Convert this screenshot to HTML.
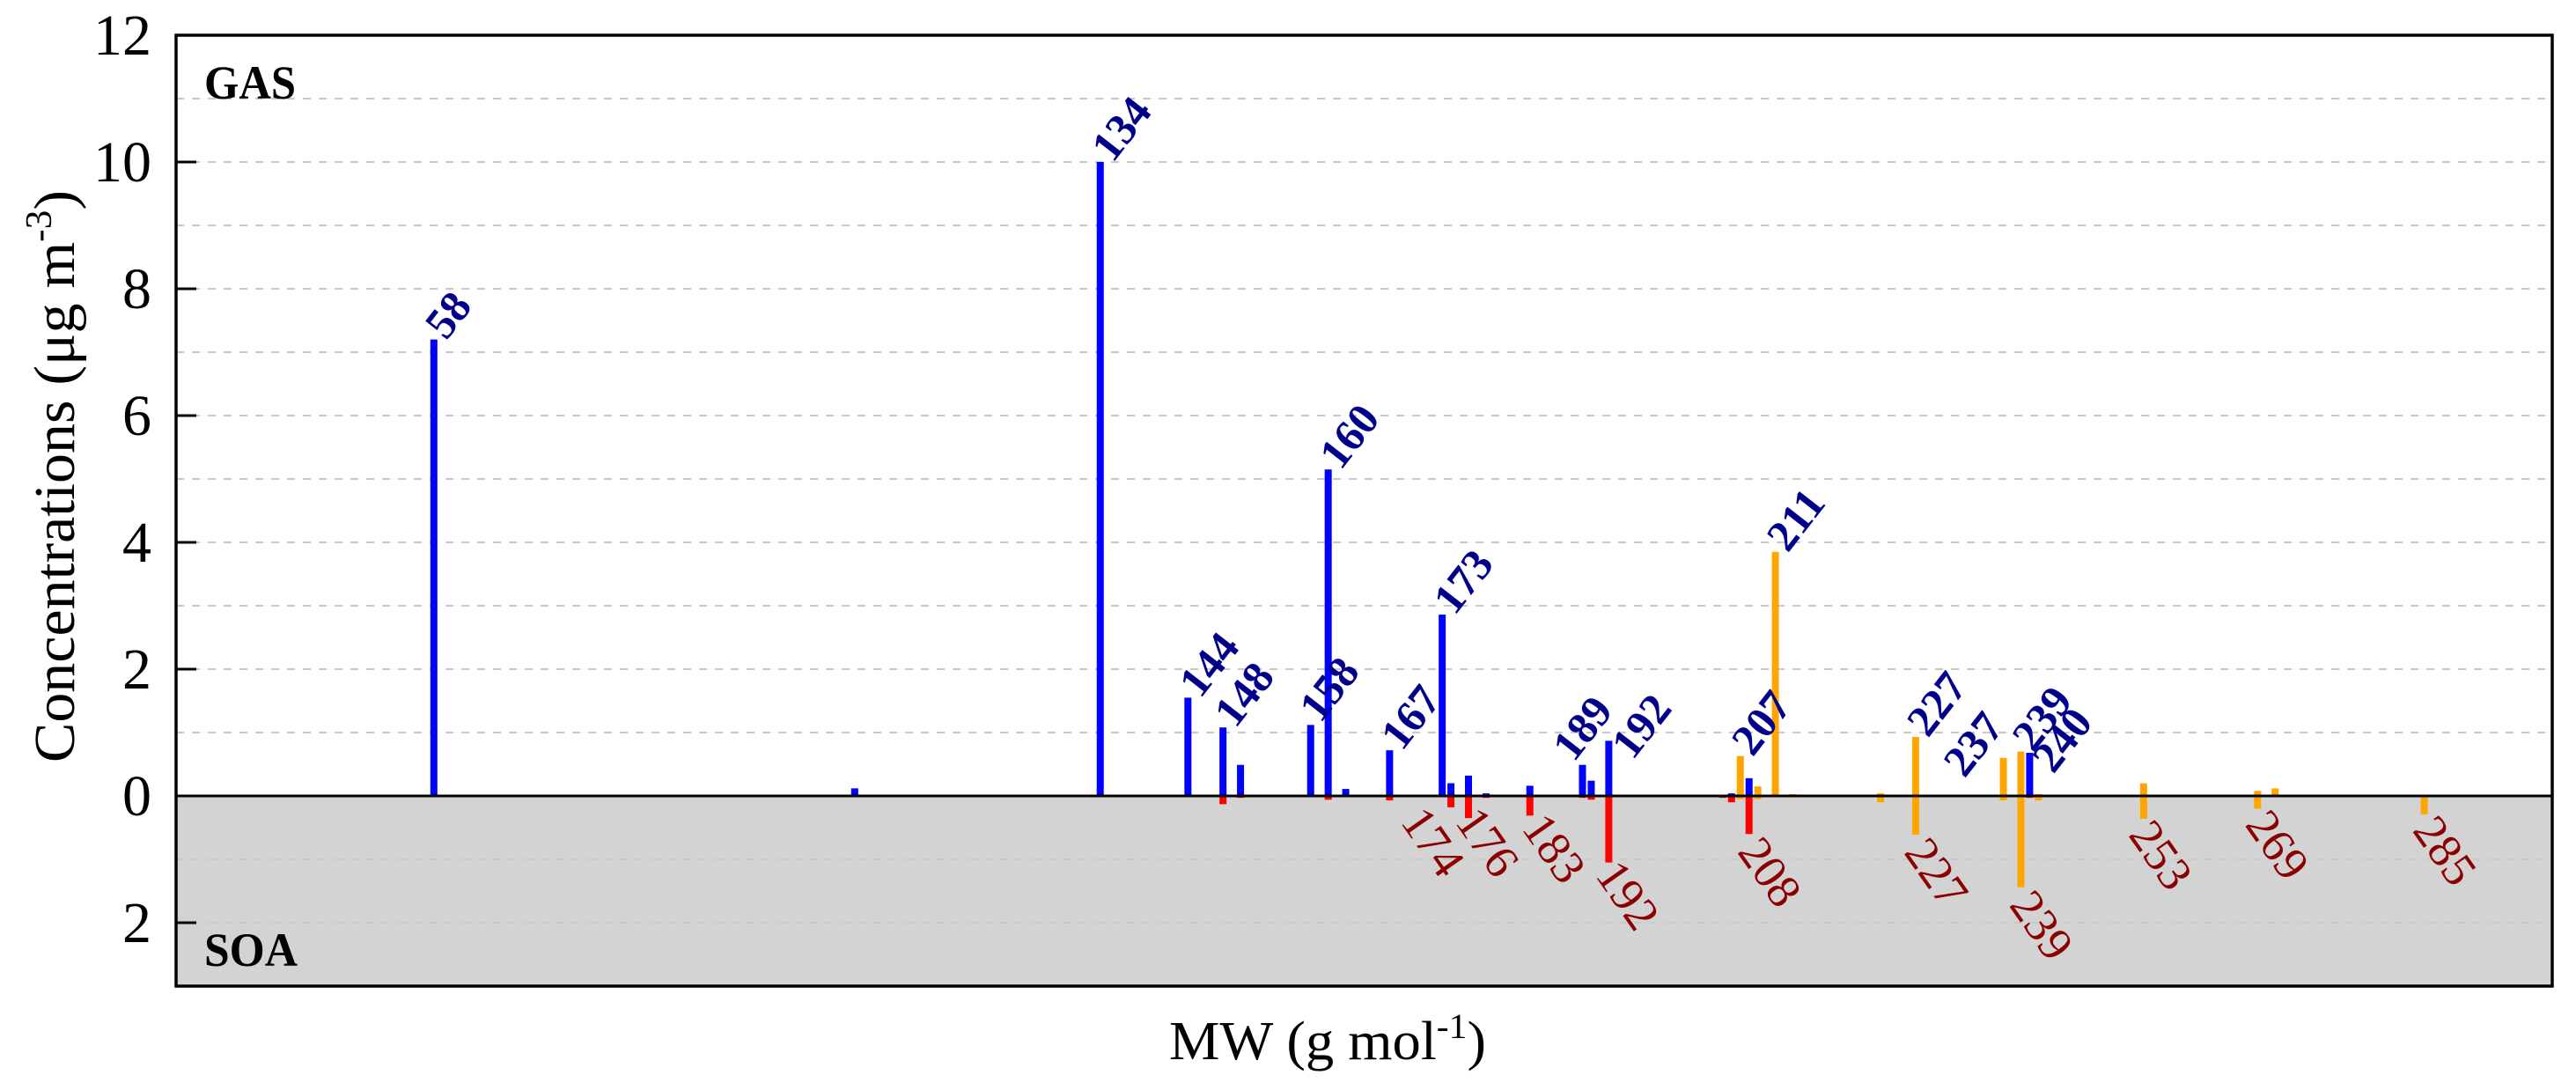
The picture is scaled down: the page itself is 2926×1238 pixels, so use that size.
<!DOCTYPE html>
<html><head><meta charset="utf-8"><style>
html,body{margin:0;padding:0;background:#fff;}
svg{display:block;font-family:"Liberation Serif","DejaVu Serif",serif;}
</style></head><body>
<svg id="chart" width="2926" height="1238" viewBox="0 0 2926 1238" xmlns="http://www.w3.org/2000/svg">
<g id="bg"></g><g id="grid"></g><g id="bars"></g><g id="frame"></g><g id="labels"></g><g id="axes"></g>
</svg>
<script>
// ---- data ----
const gasBlueMW = [58,106,122,134,144,148,150,158,160,162,167,173,174,176,178,180,183,189,190,192,206,208,240];
const gasBlueVal = [7.2,0.12,0.02,10.0,1.55,1.08,0.49,1.12,5.15,0.11,0.72,2.86,0.2,0.32,0.04,0.02,0.16,0.49,0.24,0.87,0.04,0.28,0.68];
const soaRedMW = [148,150,160,167,174,176,178,183,189,190,192,205,206,208,240];
const soaRedVal = [0.13,0.03,0.06,0.07,0.18,0.35,0.03,0.31,0.03,0.06,1.05,0.03,0.1,0.6,0.03];
const gasOrangeMW = [207,209,211,213,223,225,227,237,239,241,253,255,257,266,268,285,287];
const gasOrangeVal = [0.63,0.15,3.85,0.03,0.04,0.02,0.93,0.6,0.7,0.03,0.2,0.02,0.02,0.08,0.12,0.02,0.02];
const soaOrangeMW = [207,209,223,227,237,239,241,253,266,285];
const soaOrangeVal = [0.05,0.05,0.1,0.61,0.07,1.44,0.07,0.36,0.2,0.29];
const gasLabelText = ["58","134","144","148","158","160","167","173","189","192","207","211","227","237","239","240"];
const gasLabelMW = [58,134,144,148,158,160,167,173,189,192,207,211,227,237,239,240];
const gasLabelVal = [7.2,10.0,1.55,1.08,1.12,5.15,0.72,2.86,0.49,0.87,0.63,3.85,0.93,0.6,0.7,0.68];
const soaLabelText = ["174","176","183","192","208","227","239","253","269","285"];
const soaLabelMW = [174,176,183,192,208,227,239,253,266,285];
const soaLabelVal = [0.18,0.35,0.31,1.05,0.6,0.61,1.44,0.36,0.2,0.29];
const yTickVals = [12,10,8,6,4,2,0,-2];
const yTickLabels = ["12","10","8","6","4","2","0","2"];

// ---- scales ----
const X0=200, X1=2899, Y0=40, Y1=1120;
const xMin=28.6, xMax=299.6, yMin=-3, yMax=12;
function xs(m){return X0+(m-xMin)/(xMax-xMin)*(X1-X0);}
function ys(v){return Y1-(v-yMin)/(yMax-yMin)*(Y1-Y0);}
const NS="http://www.w3.org/2000/svg";
function mk(tag,attrs,parent){const e=document.createElementNS(NS,tag);for(const k in attrs)e.setAttribute(k,attrs[k]);parent.appendChild(e);return e;}
const gBg=document.getElementById('bg'),gGrid=document.getElementById('grid'),gBars=document.getElementById('bars'),gFrame=document.getElementById('frame'),gLab=document.getElementById('labels'),gAx=document.getElementById('axes');

let r=mk('rect',{x:X0,y:ys(0),width:X1-X0,height:Y1-ys(0),fill:'#d3d3d3'},gBg);



for(let v=-2;v<=11;v++){ if(v===0)continue;
  const l=mk('line',{x1:X0,x2:X1,y1:ys(v),y2:ys(v),stroke:'#c8c8c8','stroke-width':2,'stroke-dasharray':'9,9'},gGrid);
  
  
}

const BW=8;
function bars(mws,vals,color,down,name){
  for(let i=0;i<mws.length;i++){
    const x=xs(mws[i])-BW/2, yz=ys(0);
    const y=down?yz:ys(vals[i]);
    const h=Math.abs(ys(vals[i])-yz);
    const b=mk('rect',{x:x,y:y,width:BW,height:h,fill:color},gBars);
    
    
  }
}
bars(gasBlueMW,gasBlueVal,'#0000ff',false,'gas-bar-blue');
bars(gasOrangeMW,gasOrangeVal,'#ffa500',false,'gas-bar-orange');
bars(soaRedMW,soaRedVal,'#ff0000',true,'soa-bar-red');
bars(soaOrangeMW,soaOrangeVal,'#ffa500',true,'soa-bar-orange');

let z=mk('line',{x1:X0,x2:X1,y1:ys(0),y2:ys(0),stroke:'#000','stroke-width':3},gFrame);


let f=mk('rect',{x:X0,y:Y0,width:X1-X0,height:Y1-Y0,fill:'none',stroke:'#000','stroke-width':3.5},gFrame);



// label offsets (layout only)
const gasOff={"189":[-24,-4],"192":[13,21],"237":[-58,22],"240":[13,23],"158":[-3,-3]};
const soaOff={"174":[-42,-2],"176":[0,-14],"183":[6,-4],"192":[0,-4],"208":[2,2],"227":[2,2],"239":[2,2],"253":[-2,0],"269":[1,0],"285":[2,0]};
for(let i=0;i<gasLabelText.length;i++){
  const o=gasOff[gasLabelText[i]]||[0,0];
  const x=xs(gasLabelMW[i])+o[0]+14, y=ys(gasLabelVal[i])+o[1]+2;
  const t=mk('text',{x:x,y:y,transform:`rotate(-52 ${x} ${y})`,fill:'#00008b','font-size':50,'font-weight':'bold'},gLab);
  t.textContent=gasLabelText[i];
  
  
}
for(let i=0;i<soaLabelText.length;i++){
  const o=soaOff[soaLabelText[i]]||[0,0];
  const x=xs(soaLabelMW[i])+o[0]+10, y=ys(-soaLabelVal[i])+o[1];
  const t=mk('text',{x:x,y:y,transform:`rotate(55 ${x} ${y}) translate(0 32)`,fill:'#8b0000','font-size':54},gLab);
  t.textContent=soaLabelText[i];
  
  
}

for(let i=0;i<yTickVals.length;i++){
  const y=ys(yTickVals[i]);
  const tk=mk('line',{x1:X0,x2:X0+23,y1:y,y2:y,stroke:'#000','stroke-width':3},gAx);
  
  
  const t=mk('text',{x:172,y:y+22,'text-anchor':'end','font-size':66,fill:'#000'},gAx);
  t.textContent=yTickLabels[i];
  
  
}
</script>
<svg style="position:absolute;left:0;top:0" width="2926" height="1238" xmlns="http://www.w3.org/2000/svg">
<text x="232" y="112" font-family="Liberation Serif,serif" font-weight="bold" font-size="54" textLength="104" lengthAdjust="spacingAndGlyphs">GAS</text>
<text x="232" y="1097" font-family="Liberation Serif,serif" font-weight="bold" font-size="54" textLength="106" lengthAdjust="spacingAndGlyphs">SOA</text>
<text x="1328" y="1203" font-family="Liberation Serif,serif" font-size="62" textLength="360" lengthAdjust="spacingAndGlyphs">MW (g mol<tspan dy="-24" font-size="40">-1</tspan><tspan dy="24">)</tspan></text>
<text transform="translate(84 541) rotate(-90)" text-anchor="middle" font-family="Liberation Serif,serif" font-size="66" textLength="650" lengthAdjust="spacingAndGlyphs">Concentrations (μg m<tspan dy="-26" font-size="42">-3</tspan><tspan dy="26">)</tspan></text>
</svg>
</body></html>
